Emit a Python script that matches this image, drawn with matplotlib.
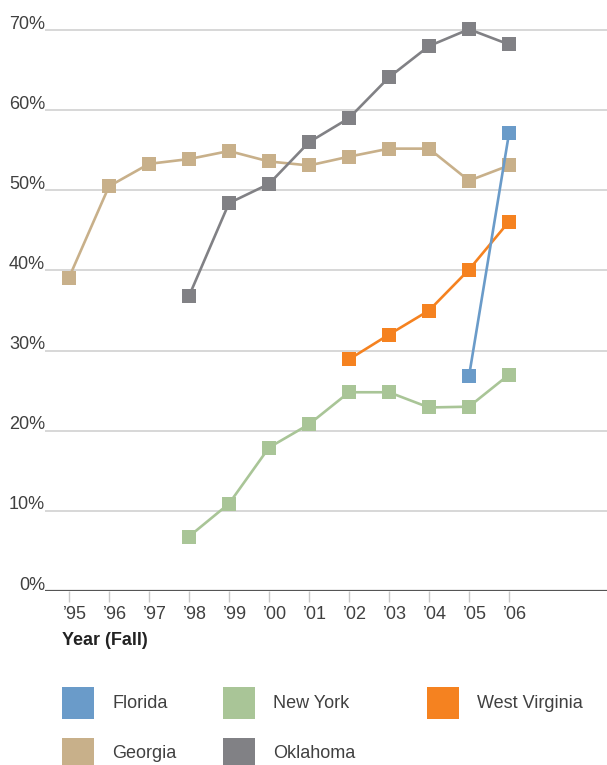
import numpy as np
import matplotlib.pyplot as plt
from matplotlib.patches import Rectangle
from matplotlib.transforms import ScaledTranslation

plt.rcParams['font.family'] = ['Liberation Sans', 'DejaVu Sans']

years = ['\u201995', '\u201996', '\u201997', '\u201998', '\u201999', '\u201900',
         '\u201901', '\u201902', '\u201903', '\u201904', '\u201905', '\u201906']
nan = np.nan

georgia = [39.1, 50.5, 53.3, 53.9, 54.9, 53.6, 53.1, 54.2, 55.2, 55.2, 51.2, 53.1]
oklahoma = [nan, nan, nan, 36.8, 48.4, 50.8, 56.0, 59.0, 64.1, 68.0, 70.1, 68.2]
new_york = [nan, nan, nan, 6.8, 10.9, 17.9, 20.8, 24.8, 24.8, 22.9, 23.0, 27.0]
west_virginia = [nan, nan, nan, nan, nan, nan, nan, 28.9, 32.0, 35.0, 40.1, 46.1]
florida = [nan, nan, nan, nan, nan, nan, nan, nan, nan, nan, 26.8, 57.1]

yticks = [0, 10, 20, 30, 40, 50, 60, 70]
ytick_labels = ['0%', '10%', '20%', '30%', '40%', '50%', '60%', '70%']

colors = {
    'Florida': '#6a9bc9',
    'New York': '#a9c597',
    'West Virginia': '#f58220',
    'Georgia': '#c8b08a',
    'Oklahoma': '#818185',
}

fig = plt.figure(figsize=(6.07, 7.65), dpi=100)
ax = fig.add_axes([45 / 607, 174 / 765, 562 / 607, 577 / 765])

x = np.arange(len(years))
series = [('Georgia', georgia), ('Oklahoma', oklahoma), ('New York', new_york),
          ('West Virginia', west_virginia), ('Florida', florida)]
for name, vals in series:
    ax.plot(x, vals, color=colors[name], lw=1.9, marker='s', ms=10.3,
            mew=0, clip_on=False, zorder=3)

ax.set_xlim(-0.6, 13.45)
ax.set_ylim(0, 72)

for y in yticks[1:]:
    ax.axhline(y, color='#cdcdcd', lw=1.1, zorder=1)
ax.axhline(0, color='#555555', lw=1.6, zorder=2)

for s in ax.spines.values():
    s.set_visible(False)

ax.set_yticks(yticks)
ax.set_yticklabels(ytick_labels, fontsize=13, color='#404040', va='baseline')
ax.tick_params(axis='y', length=0, pad=0)
for lab in ax.get_yticklabels():
    lab.set_transform(lab.get_transform() + ScaledTranslation(0, 0.015, fig.dpi_scale_trans))

ax.set_xticks(x)
ax.set_xticklabels(years, fontsize=13, color='#404040')
ax.tick_params(axis='x', length=8, width=1, color='#c8c8c8', pad=2.6)
for lab in ax.get_xticklabels():
    lab.set_transform(lab.get_transform() + ScaledTranslation(0.06, 0, fig.dpi_scale_trans))

fig.text(62 / 607, 1 - 645 / 765, 'Year (Fall)', fontsize=13, fontweight='bold',
         color='#222222', va='baseline')

# legend squares laid out in two rows
legend_items = [('Florida', 62, 687), ('New York', 223, 687), ('West Virginia', 427, 687),
                ('Georgia', 62, 738), ('Oklahoma', 223, 738)]
W, H = 607, 765
for name, px, py in legend_items:
    fig.add_artist(Rectangle((px / W, 1 - (py + 32) / H), 32 / W, 32 / H,
                             transform=fig.transFigure, color=colors[name], lw=0))
    fig.text((px + 50) / W, 1 - (py + 16) / H, name, fontsize=13, color='#404040',
             va='center')

fig.savefig('out.png', dpi=100)
